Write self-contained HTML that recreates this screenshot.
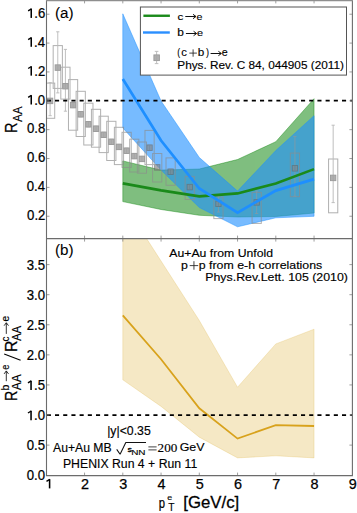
<!DOCTYPE html><html><head><meta charset="utf-8"><style>html,body{margin:0;padding:0;background:#fff;}svg{display:block;}</style></head><body><svg width="357" height="513" viewBox="0 0 357 513"><rect width="357" height="513" fill="#fff"/><defs><clipPath id="cu"><rect x="46.5" y="0.4" width="305.9" height="238.2"/></clipPath><clipPath id="cl"><rect x="46.5" y="238.6" width="305.9" height="237"/></clipPath></defs><g clip-path="url(#cu)"><polygon points="122.8,160.9 161.05,170.1 199.3,169 237.55,159.5 275.8,141.7 314.05,98.7 314.05,213 275.8,216.5 237.55,217 199.3,215.3 161.05,209.5 122.8,201.6" fill="#008000" fill-opacity="0.5" stroke="#008000" stroke-opacity="0.5" stroke-width="0.8"/><polygon points="122.8,13.8 161.05,101 199.3,157.5 237.55,191.1 275.8,150.5 314.05,115.7 314.05,216.3 275.8,217.8 237.55,226.8 199.3,207.5 161.05,170.1 122.8,127.9" fill="#1e90ff" fill-opacity="0.6" stroke="#1e90ff" stroke-opacity="0.6" stroke-width="0.8"/><g opacity="0.68"><rect x="45.52" y="83.1" width="9.2" height="35.2" fill="none" stroke="#8c8c8c" stroke-width="1"/><rect x="53.17" y="45.6" width="9.2" height="42.8" fill="none" stroke="#8c8c8c" stroke-width="1"/><rect x="60.82" y="67.2" width="9.2" height="31.9" fill="none" stroke="#8c8c8c" stroke-width="1"/><rect x="68.47" y="79.6" width="9.2" height="50.6" fill="none" stroke="#8c8c8c" stroke-width="1"/><rect x="76.12" y="91.3" width="9.2" height="45.2" fill="none" stroke="#8c8c8c" stroke-width="1"/><rect x="83.78" y="103.2" width="9.2" height="41.8" fill="none" stroke="#8c8c8c" stroke-width="1"/><rect x="91.42" y="109.3" width="9.2" height="37.9" fill="none" stroke="#8c8c8c" stroke-width="1"/><rect x="99.08" y="116.2" width="9.2" height="36.4" fill="none" stroke="#8c8c8c" stroke-width="1"/><rect x="106.73" y="121.3" width="9.2" height="39.2" fill="none" stroke="#8c8c8c" stroke-width="1"/><rect x="114.38" y="127.3" width="9.2" height="37.3" fill="none" stroke="#8c8c8c" stroke-width="1"/><rect x="122.03" y="132.3" width="9.2" height="35.1" fill="none" stroke="#8c8c8c" stroke-width="1"/><rect x="129.67" y="139.2" width="9.2" height="32.8" fill="none" stroke="#8c8c8c" stroke-width="1"/><rect x="137.33" y="142" width="9.2" height="31.2" fill="none" stroke="#8c8c8c" stroke-width="1"/><rect x="144.97" y="130.4" width="9.2" height="34.2" fill="none" stroke="#8c8c8c" stroke-width="1"/><rect x="152.62" y="153.5" width="9.2" height="28.5" fill="none" stroke="#8c8c8c" stroke-width="1"/><rect x="166.01" y="157.9" width="9.2" height="27.4" fill="none" stroke="#8c8c8c" stroke-width="1"/><rect x="185.14" y="176.4" width="9.2" height="23.1" fill="none" stroke="#8c8c8c" stroke-width="1"/><rect x="213.83" y="197" width="9.2" height="21.6" fill="none" stroke="#8c8c8c" stroke-width="1"/><rect x="252.08" y="192.4" width="9.2" height="31" fill="none" stroke="#8c8c8c" stroke-width="1"/><rect x="290.32" y="153.1" width="9.2" height="43.6" fill="none" stroke="#8c8c8c" stroke-width="1"/><rect x="328.57" y="159" width="9.2" height="53.8" fill="none" stroke="#8c8c8c" stroke-width="1"/><path d="M50.12 82.6V115.7M48.52 82.6h3.2M48.52 115.7h3.2" stroke="#999" stroke-width="0.9" fill="none"/><rect x="47.48" y="98.15" width="5.3" height="5.5" fill="#8a8a8a" stroke="#6a6a6a" stroke-width="0.9"/><path d="M50.12 98.6V103.2" stroke="#787878" stroke-width="0.8"/><path d="M57.77 31.8V92.9M56.17 31.8h3.2M56.17 92.9h3.2" stroke="#999" stroke-width="0.9" fill="none"/><rect x="55.12" y="64.85" width="5.3" height="5.5" fill="#8a8a8a" stroke="#6a6a6a" stroke-width="0.9"/><path d="M57.77 65.3V69.9" stroke="#787878" stroke-width="0.8"/><path d="M65.42 49.4V111.2M63.82 49.4h3.2M63.82 111.2h3.2" stroke="#999" stroke-width="0.9" fill="none"/><rect x="62.77" y="83.45" width="5.3" height="5.5" fill="#8a8a8a" stroke="#6a6a6a" stroke-width="0.9"/><path d="M65.42 83.9V88.5" stroke="#787878" stroke-width="0.8"/><path d="M73.07 102.6V107.6M71.47 102.6h3.2M71.47 107.6h3.2" stroke="#999" stroke-width="0.9" fill="none"/><rect x="70.42" y="102.35" width="5.3" height="5.5" fill="#8a8a8a" stroke="#6a6a6a" stroke-width="0.9"/><path d="M73.07 102.8V107.4" stroke="#787878" stroke-width="0.8"/><path d="M80.72 111.8V116.8M79.12 111.8h3.2M79.12 116.8h3.2" stroke="#999" stroke-width="0.9" fill="none"/><rect x="78.07" y="111.55" width="5.3" height="5.5" fill="#8a8a8a" stroke="#6a6a6a" stroke-width="0.9"/><path d="M80.72 112V116.6" stroke="#787878" stroke-width="0.8"/><path d="M88.38 121.8V126.8M86.78 121.8h3.2M86.78 126.8h3.2" stroke="#999" stroke-width="0.9" fill="none"/><rect x="85.72" y="121.55" width="5.3" height="5.5" fill="#8a8a8a" stroke="#6a6a6a" stroke-width="0.9"/><path d="M88.38 122V126.6" stroke="#787878" stroke-width="0.8"/><path d="M96.02 126.2V131.2M94.42 126.2h3.2M94.42 131.2h3.2" stroke="#999" stroke-width="0.9" fill="none"/><rect x="93.37" y="125.95" width="5.3" height="5.5" fill="#8a8a8a" stroke="#6a6a6a" stroke-width="0.9"/><path d="M96.02 126.4V131" stroke="#787878" stroke-width="0.8"/><path d="M103.67 132.3V137.3M102.08 132.3h3.2M102.08 137.3h3.2" stroke="#999" stroke-width="0.9" fill="none"/><rect x="101.02" y="132.05" width="5.3" height="5.5" fill="#8a8a8a" stroke="#6a6a6a" stroke-width="0.9"/><path d="M103.67 132.5V137.1" stroke="#787878" stroke-width="0.8"/><path d="M111.33 139.3V144.3M109.73 139.3h3.2M109.73 144.3h3.2" stroke="#999" stroke-width="0.9" fill="none"/><rect x="108.67" y="139.05" width="5.3" height="5.5" fill="#8a8a8a" stroke="#6a6a6a" stroke-width="0.9"/><path d="M111.33 139.5V144.1" stroke="#787878" stroke-width="0.8"/><path d="M118.97 144.4V149.4M117.38 144.4h3.2M117.38 149.4h3.2" stroke="#999" stroke-width="0.9" fill="none"/><rect x="116.32" y="144.15" width="5.3" height="5.5" fill="#8a8a8a" stroke="#6a6a6a" stroke-width="0.9"/><path d="M118.97 144.6V149.2" stroke="#787878" stroke-width="0.8"/><path d="M126.62 148.2V153.2M125.03 148.2h3.2M125.03 153.2h3.2" stroke="#999" stroke-width="0.9" fill="none"/><rect x="123.97" y="147.95" width="5.3" height="5.5" fill="#8a8a8a" stroke="#6a6a6a" stroke-width="0.9"/><path d="M126.62 148.4V153" stroke="#787878" stroke-width="0.8"/><path d="M134.27 153.6V158.6M132.67 153.6h3.2M132.67 158.6h3.2" stroke="#999" stroke-width="0.9" fill="none"/><rect x="131.62" y="153.35" width="5.3" height="5.5" fill="#8a8a8a" stroke="#6a6a6a" stroke-width="0.9"/><path d="M134.27 153.8V158.4" stroke="#787878" stroke-width="0.8"/><path d="M141.93 156.4V161.4M140.33 156.4h3.2M140.33 161.4h3.2" stroke="#999" stroke-width="0.9" fill="none"/><rect x="139.28" y="156.15" width="5.3" height="5.5" fill="#8a8a8a" stroke="#6a6a6a" stroke-width="0.9"/><path d="M141.93 156.6V161.2" stroke="#787878" stroke-width="0.8"/><path d="M149.57 145.2V150.2M147.97 145.2h3.2M147.97 150.2h3.2" stroke="#999" stroke-width="0.9" fill="none"/><rect x="146.92" y="144.95" width="5.3" height="5.5" fill="#8a8a8a" stroke="#6a6a6a" stroke-width="0.9"/><path d="M149.57 145.4V150" stroke="#787878" stroke-width="0.8"/><path d="M157.22 164.9V169.9M155.62 164.9h3.2M155.62 169.9h3.2" stroke="#999" stroke-width="0.9" fill="none"/><rect x="154.57" y="164.65" width="5.3" height="5.5" fill="#8a8a8a" stroke="#6a6a6a" stroke-width="0.9"/><path d="M157.22 165.1V169.7" stroke="#787878" stroke-width="0.8"/><path d="M170.61 169.2V174.2M169.01 169.2h3.2M169.01 174.2h3.2" stroke="#999" stroke-width="0.9" fill="none"/><rect x="167.96" y="168.95" width="5.3" height="5.5" fill="#8a8a8a" stroke="#6a6a6a" stroke-width="0.9"/><path d="M170.61 169.4V174" stroke="#787878" stroke-width="0.8"/><path d="M189.74 184.6V189.6M188.14 184.6h3.2M188.14 189.6h3.2" stroke="#999" stroke-width="0.9" fill="none"/><rect x="187.09" y="184.35" width="5.3" height="5.5" fill="#8a8a8a" stroke="#6a6a6a" stroke-width="0.9"/><path d="M189.74 184.8V189.4" stroke="#787878" stroke-width="0.8"/><path d="M218.43 196V212M216.83 196h3.2M216.83 212h3.2" stroke="#999" stroke-width="0.9" fill="none"/><rect x="215.78" y="201.05" width="5.3" height="5.5" fill="#8a8a8a" stroke="#6a6a6a" stroke-width="0.9"/><path d="M218.43 201.5V206.1" stroke="#787878" stroke-width="0.8"/><path d="M256.68 191V213.5M255.08 191h3.2M255.08 213.5h3.2" stroke="#999" stroke-width="0.9" fill="none"/><rect x="254.03" y="199.65" width="5.3" height="5.5" fill="#8a8a8a" stroke="#6a6a6a" stroke-width="0.9"/><path d="M256.68 200.1V204.7" stroke="#787878" stroke-width="0.8"/><path d="M294.93 136.6V196.2M293.32 136.6h3.2M293.32 196.2h3.2" stroke="#999" stroke-width="0.9" fill="none"/><rect x="292.28" y="165.55" width="5.3" height="5.5" fill="#8a8a8a" stroke="#6a6a6a" stroke-width="0.9"/><path d="M294.93 166V170.6" stroke="#787878" stroke-width="0.8"/><path d="M333.18 125.2V202.6M331.57 125.2h3.2M331.57 202.6h3.2" stroke="#999" stroke-width="0.9" fill="none"/><rect x="330.53" y="175.15" width="5.3" height="5.5" fill="#8a8a8a" stroke="#6a6a6a" stroke-width="0.9"/><path d="M333.18 175.6V180.2" stroke="#787878" stroke-width="0.8"/></g><polyline points="122.8,183.4 161.05,190.4 199.3,196.4 237.55,193.4 275.8,183.5 314.05,169.1" fill="none" stroke="#1a8a1a" stroke-width="2.6"/><polyline points="122.8,79 161.05,140.5 199.3,188.5 237.55,212.6 275.8,190.6 314.05,179.1" fill="none" stroke="#1e8fff" stroke-width="2.7"/><line x1="46.8" y1="100.6" x2="352.4" y2="100.6" stroke="#000" stroke-width="1.8" stroke-dasharray="4.1 4.1"/></g><g clip-path="url(#cl)"><polygon points="122.8,201.5 161.05,261 199.3,320.5 237.55,387.2 275.8,343.9 314.05,329.2 314.05,457.9 275.8,455.8 237.55,457.9 199.3,437.2 161.05,406.4 122.8,379.8" fill="#daa520" fill-opacity="0.26" stroke="#daa520" stroke-opacity="0.26" stroke-width="0.8"/><polyline points="122.8,315.3 161.05,359.2 199.3,408.3 237.55,438.6 275.8,425.1 314.05,426" fill="none" stroke="#d8a21c" stroke-width="1.8"/><line x1="46.8" y1="415.2" x2="352.4" y2="415.2" stroke="#000" stroke-width="1.8" stroke-dasharray="4.1 4.1"/></g><path d="M84.55 0.4V3.4M84.55 238.6V235.6M84.55 238.6V241.6M84.55 475.6V472.6M122.8 0.4V3.4M122.8 238.6V235.6M122.8 238.6V241.6M122.8 475.6V472.6M161.05 0.4V3.4M161.05 238.6V235.6M161.05 238.6V241.6M161.05 475.6V472.6M199.3 0.4V3.4M199.3 238.6V235.6M199.3 238.6V241.6M199.3 475.6V472.6M237.55 0.4V3.4M237.55 238.6V235.6M237.55 238.6V241.6M237.55 475.6V472.6M275.8 0.4V3.4M275.8 238.6V235.6M275.8 238.6V241.6M275.8 475.6V472.6M314.05 0.4V3.4M314.05 238.6V235.6M314.05 238.6V241.6M314.05 475.6V472.6M46.5 216.24h3M352.4 216.24h-3M46.5 187.38h3M352.4 187.38h-3M46.5 158.52h3M352.4 158.52h-3M46.5 129.66h3M352.4 129.66h-3M46.5 100.8h3M352.4 100.8h-3M46.5 71.94h3M352.4 71.94h-3M46.5 43.08h3M352.4 43.08h-3M46.5 14.22h3M352.4 14.22h-3M46.5 445.12h3M352.4 445.12h-3M46.5 415.03h3M352.4 415.03h-3M46.5 384.94h3M352.4 384.94h-3M46.5 354.86h3M352.4 354.86h-3M46.5 324.77h3M352.4 324.77h-3M46.5 294.69h3M352.4 294.69h-3M46.5 264.61h3M352.4 264.61h-3" stroke="#888" stroke-width="0.8" fill="none"/><path d="M46.5 0.4V475.6H352.4V0.4" fill="none" stroke="#6c6c6c" stroke-width="1.1"/><path d="M45.95 0.6H352.95" stroke="#8e8e8e" stroke-width="1.2"/><line x1="46.5" y1="238.6" x2="352.4" y2="238.6" stroke="#6c6c6c" stroke-width="1.1"/><rect x="140.4" y="7.0" width="206.1" height="68.1" fill="#fff" stroke="#555" stroke-width="1"/><line x1="143.4" y1="15.75" x2="169.9" y2="15.75" stroke="#1a8a1a" stroke-width="2.4"/><line x1="143" y1="32.5" x2="169.8" y2="32.5" stroke="#2a8fff" stroke-width="2.4"/><g opacity="0.68"><path d="M156.6 51.4V63.6M154.8 51.4h3.6M154.8 63.6h3.6" stroke="#999" stroke-width="0.9" fill="none"/><rect x="153.9" y="54.9" width="5.5" height="5.7" fill="#8a8a8a" stroke="#6a6a6a" stroke-width="0.9"/><path d="M156.6 55V60.5" stroke="#808080" stroke-width="0.9"/></g><path d="M185.3 16.5H195.7M193 14.3L196 16.5L193 18.7" stroke="#111" stroke-width="1.0" fill="none" stroke-linejoin="miter"/><path d="M185.9 33.5H196.3M193.6 31.3L196.6 33.5L193.6 35.7" stroke="#111" stroke-width="1.0" fill="none" stroke-linejoin="miter"/><path d="M210.6 53.5H221.1M218.4 51.3L221.4 53.5L218.4 55.7" stroke="#111" stroke-width="1.0" fill="none" stroke-linejoin="miter"/><path d="M189.3 53.1H196.9M193.1 49.4V56.7" stroke="#222" stroke-width="0.85" fill="none"/><path d="M189.7 265.6H198.2M193.95 261.2V269.7" stroke="#222" stroke-width="0.85" fill="none"/><path d="M116.7 449.4L120.1 454.2L125.8 442.5H146" stroke="#111" stroke-width="1.05" fill="none" stroke-linejoin="bevel"/><path d="M148.4 446.9H156.6M148.4 449.9H156.6" stroke="#222" stroke-width="0.85" fill="none"/><path d="M6.3 381.2V371.2M4.1 373.9L6.3 370.9L8.5 373.9" stroke="#000" stroke-width="0.8" fill="none"/><path d="M6.3 333.9V323M4.1 325.7L6.3 322.7L8.5 325.7" stroke="#000" stroke-width="0.8" fill="none"/><path d="M20.6 360.2L4.2 353.9" stroke="#000" stroke-width="1.1" fill="none"/><text transform="translate(34.28,17.92) scale(0.9150,1)" font-family="Liberation Sans" font-size="14.4" fill="#000" stroke="#000" stroke-width="0.25">.6</text><text transform="translate(34.09,46.78) scale(0.9150,1)" font-family="Liberation Sans" font-size="14.4" fill="#000" stroke="#000" stroke-width="0.25">.4</text><text transform="translate(34.37,75.64) scale(0.9150,1)" font-family="Liberation Sans" font-size="14.4" fill="#000" stroke="#000" stroke-width="0.25">.2</text><text transform="translate(34.19,104.5) scale(0.9150,1)" font-family="Liberation Sans" font-size="14.4" fill="#000" stroke="#000" stroke-width="0.25">.0</text><text transform="translate(26.96,133.36) scale(0.9150,1)" font-family="Liberation Sans" font-size="14.4" fill="#000" stroke="#000" stroke-width="0.25">0.8</text><text transform="translate(26.96,162.22) scale(0.9150,1)" font-family="Liberation Sans" font-size="14.4" fill="#000" stroke="#000" stroke-width="0.25">0.6</text><text transform="translate(26.77,191.08) scale(0.9150,1)" font-family="Liberation Sans" font-size="14.4" fill="#000" stroke="#000" stroke-width="0.25">0.4</text><text transform="translate(27.05,219.94) scale(0.9150,1)" font-family="Liberation Sans" font-size="14.4" fill="#000" stroke="#000" stroke-width="0.25">0.2</text><text transform="translate(26.67,480.3) scale(0.9150,1)" font-family="Liberation Sans" font-size="14.4" fill="#000" stroke="#000" stroke-width="0.25">0.0</text><text transform="translate(26.76,450.22) scale(0.9150,1)" font-family="Liberation Sans" font-size="14.4" fill="#000" stroke="#000" stroke-width="0.25">0.5</text><text transform="translate(33.99,420.13) scale(0.9150,1)" font-family="Liberation Sans" font-size="14.4" fill="#000" stroke="#000" stroke-width="0.25">.0</text><text transform="translate(34.08,390.05) scale(0.9150,1)" font-family="Liberation Sans" font-size="14.4" fill="#000" stroke="#000" stroke-width="0.25">.5</text><text transform="translate(26.67,359.96) scale(0.9150,1)" font-family="Liberation Sans" font-size="14.4" fill="#000" stroke="#000" stroke-width="0.25">2.0</text><text transform="translate(26.76,329.88) scale(0.9150,1)" font-family="Liberation Sans" font-size="14.4" fill="#000" stroke="#000" stroke-width="0.25">2.5</text><text transform="translate(26.67,299.79) scale(0.9150,1)" font-family="Liberation Sans" font-size="14.4" fill="#000" stroke="#000" stroke-width="0.25">3.0</text><text transform="translate(26.76,269.71) scale(0.9150,1)" font-family="Liberation Sans" font-size="14.4" fill="#000" stroke="#000" stroke-width="0.25">3.5</text><text x="84.95" y="488.5" text-anchor="middle" font-family="Liberation Sans" font-size="14.4" fill="#000" stroke="#000" stroke-width="0.25">2</text><text x="123.2" y="488.5" text-anchor="middle" font-family="Liberation Sans" font-size="14.4" fill="#000" stroke="#000" stroke-width="0.25">3</text><text x="161.45" y="488.5" text-anchor="middle" font-family="Liberation Sans" font-size="14.4" fill="#000" stroke="#000" stroke-width="0.25">4</text><text x="199.7" y="488.5" text-anchor="middle" font-family="Liberation Sans" font-size="14.4" fill="#000" stroke="#000" stroke-width="0.25">5</text><text x="237.95" y="488.5" text-anchor="middle" font-family="Liberation Sans" font-size="14.4" fill="#000" stroke="#000" stroke-width="0.25">6</text><text x="276.2" y="488.5" text-anchor="middle" font-family="Liberation Sans" font-size="14.4" fill="#000" stroke="#000" stroke-width="0.25">7</text><text x="314.45" y="488.5" text-anchor="middle" font-family="Liberation Sans" font-size="14.4" fill="#000" stroke="#000" stroke-width="0.25">8</text><text x="352.7" y="488.5" text-anchor="middle" font-family="Liberation Sans" font-size="14.4" fill="#000" stroke="#000" stroke-width="0.25">9</text><text transform="translate(54.95,17.5) scale(1.0500,1.0000)" font-family="Liberation Sans" font-size="14.5" fill="#000" stroke="#000" stroke-width="0.08">(a)</text><text transform="translate(54.95,254.96) scale(1.0500,0.9481)" font-family="Liberation Sans" font-size="14.5" fill="#000" stroke="#000" stroke-width="0.08">(b)</text><text transform="translate(177.39,19.73) scale(1.0196,0.8308)" font-family="Liberation Sans" font-size="11.5" fill="#000" stroke="#000" stroke-width="0.15">c</text><text transform="translate(196.53,19.73) scale(0.9286,0.8308)" font-family="Liberation Sans" font-size="11.5" fill="#000" stroke="#000" stroke-width="0.15">e</text><text transform="translate(177.27,35.81) scale(1.0377,0.9535)" font-family="Liberation Sans" font-size="11.5" fill="#000" stroke="#000" stroke-width="0.15">b</text><text transform="translate(196.92,35.83) scale(0.9464,0.8308)" font-family="Liberation Sans" font-size="11.5" fill="#000" stroke="#000" stroke-width="0.15">e</text><text transform="translate(177.35,55.58) scale(0.7576,1.0092)" font-family="Liberation Sans" font-size="11.5" fill="#000" stroke="#000" stroke-width="0.15">(</text><text transform="translate(181.21,56.22) scale(0.9804,0.9231)" font-family="Liberation Sans" font-size="11.5" fill="#000" stroke="#000" stroke-width="0.15">c</text><text transform="translate(197.79,56.2) scale(1.0189,0.9884)" font-family="Liberation Sans" font-size="11.5" fill="#000" stroke="#000" stroke-width="0.15">b</text><text transform="translate(205.88,55.58) scale(0.7879,1.0092)" font-family="Liberation Sans" font-size="11.5" fill="#000" stroke="#000" stroke-width="0.15">)</text><text transform="translate(221.83,56.22) scale(0.9286,0.8923)" font-family="Liberation Sans" font-size="11.5" fill="#000" stroke="#000" stroke-width="0.15">e</text><text transform="translate(177.28,68.9) scale(1.0261,1.0000)" font-family="Liberation Sans" font-size="11.5" fill="#000" stroke="#000" stroke-width="0.15">Phys. Rev. C 84, 044905 (2011)</text><text transform="translate(169.3,257.4) scale(1.0467,1.0000)" font-family="Liberation Sans" font-size="11.7" fill="#000" stroke="#000" stroke-width="0.15">Au+Au from Unfold</text><text transform="translate(181.06,269.2) scale(1.0556,1.0000)" font-family="Liberation Sans" font-size="11.7" fill="#000" stroke="#000" stroke-width="0.15">p</text><text transform="translate(198.76,269) scale(1.0560,1.0000)" font-family="Liberation Sans" font-size="11.7" fill="#000" stroke="#000" stroke-width="0.15">p from e-h correlations</text><text transform="translate(205.23,280.9) scale(1.0755,1.0000)" font-family="Liberation Sans" font-size="11.5" fill="#000" stroke="#000" stroke-width="0.15">Phys.Rev.Lett. 105 (2010)</text><text transform="translate(107.18,435.4) scale(1.0243,1.0000)" font-family="Liberation Sans" font-size="12.0" fill="#000" stroke="#000" stroke-width="0.15">|y|&lt;0.35</text><text transform="translate(53,452.1) scale(0.9765,1.0000)" font-family="Liberation Sans" font-size="12.5" fill="#000" stroke="#000" stroke-width="0.15">Au+Au MB</text><text transform="translate(127.49,451.52) scale(1.0500,0.9184)" font-family="Liberation Sans" font-size="8.5" fill="#000" stroke="#000" stroke-width="0.3">s</text><text transform="translate(131.17,454.8) scale(1.4659,1.0638)" font-family="Liberation Sans" font-size="6.8" fill="#000" stroke="#000" stroke-width="0.1">NN</text><text transform="translate(157.57,451.81) scale(1.0621,0.9655)" font-family="Liberation Serif" font-size="12.4" fill="#000" stroke="#000" stroke-width="0.15">200</text><text transform="translate(179.7,451.42) scale(0.9959,0.8889)" font-family="Liberation Sans" font-size="12.5" fill="#000" stroke="#000" stroke-width="0.15">GeV</text><text transform="translate(62.92,468.2) scale(0.9815,1.0000)" font-family="Liberation Sans" font-size="12.5" fill="#000" stroke="#000" stroke-width="0.15">PHENIX Run 4 + Run 11</text><text transform="translate(158.64,508.08) scale(0.7324,0.9744)" font-family="Liberation Sans" font-size="15.4" fill="#000" stroke="#000" stroke-width="0.25">p</text><text transform="translate(167.19,500.14) scale(1.0488,0.7755)" font-family="Liberation Sans" font-size="8.5" fill="#000" stroke="#000" stroke-width="0.15">e</text><text transform="translate(168.22,511.3) scale(0.8939,1.0125)" font-family="Liberation Sans" font-size="11.5" fill="#000" stroke="#000" stroke-width="0.15">T</text><text transform="translate(183.37,508.25) scale(1.1398,1.1449)" font-family="Liberation Sans" font-size="14.7" fill="#000" stroke="#000" stroke-width="0.25">[GeV/c]</text><text transform="translate(17.2,132.98) rotate(-90) scale(0.8302,1)" font-family="Liberation Sans" font-size="17.4" fill="#000" stroke="#000" stroke-width="0.25">R</text><text transform="translate(22,121.91) rotate(-90) scale(0.9345,1)" font-family="Liberation Sans" font-size="12.5" fill="#000" stroke="#000" stroke-width="0.15">AA</text><text transform="translate(17.1,400.97) rotate(-90) scale(0.8208,1)" font-family="Liberation Sans" font-size="17.4" fill="#000" stroke="#000" stroke-width="0.25">R</text><text transform="translate(21.4,390.3) rotate(-90) scale(0.9583,1)" font-family="Liberation Sans" font-size="12.5" fill="#000" stroke="#000" stroke-width="0.15">AA</text><text transform="translate(9.2,390.5) rotate(-90) scale(1.0000,1)" font-family="Liberation Sans" font-size="10.5" fill="#000" stroke="#000" stroke-width="0.15">b</text><text transform="translate(9.2,369.85) rotate(-90) scale(0.8800,1)" font-family="Liberation Sans" font-size="10.5" fill="#000" stroke="#000" stroke-width="0.15">e</text><text transform="translate(17,352.09) rotate(-90) scale(0.9151,1)" font-family="Liberation Sans" font-size="17.4" fill="#000" stroke="#000" stroke-width="0.25">R</text><text transform="translate(20.9,341.11) rotate(-90) scale(0.9286,1)" font-family="Liberation Sans" font-size="12.5" fill="#000" stroke="#000" stroke-width="0.15">AA</text><text transform="translate(9.2,341.58) rotate(-90) scale(0.9565,1)" font-family="Liberation Sans" font-size="10.5" fill="#000" stroke="#000" stroke-width="0.15">c</text><text transform="translate(9.2,321.59) rotate(-90) scale(0.9800,1)" font-family="Liberation Sans" font-size="10.5" fill="#000" stroke="#000" stroke-width="0.15">e</text><path d="M31.25 8.62V17.92" stroke="#000" stroke-width="1.55"/><path d="M31.45 8.82L28.15 10.82" stroke="#000" stroke-width="1.35"/><path d="M31.25 37.48V46.78" stroke="#000" stroke-width="1.55"/><path d="M31.45 37.68L28.15 39.68" stroke="#000" stroke-width="1.35"/><path d="M31.25 66.34V75.64" stroke="#000" stroke-width="1.55"/><path d="M31.45 66.54L28.15 68.54" stroke="#000" stroke-width="1.35"/><path d="M31.25 95.2V104.5" stroke="#000" stroke-width="1.55"/><path d="M31.45 95.4L28.15 97.4" stroke="#000" stroke-width="1.35"/><path d="M31.05 410.83V420.13" stroke="#000" stroke-width="1.55"/><path d="M31.25 411.03L27.95 413.03" stroke="#000" stroke-width="1.35"/><path d="M31.05 380.75V390.05" stroke="#000" stroke-width="1.55"/><path d="M31.25 380.94L27.95 382.94" stroke="#000" stroke-width="1.35"/><path d="M49.6 479.2V488.4" stroke="#000" stroke-width="1.55"/><path d="M49.8 479.4L46.5 481.4" stroke="#000" stroke-width="1.35"/></svg></body></html>
